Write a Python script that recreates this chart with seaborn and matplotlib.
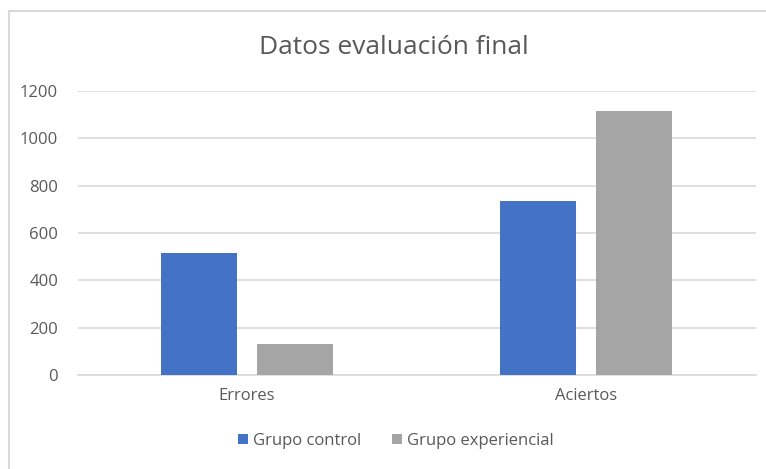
import matplotlib
matplotlib.use("Agg")
import matplotlib.pyplot as plt
import seaborn as sns
import pandas as pd
from matplotlib.lines import Line2D
from matplotlib.patches import Patch

categories = ["Errores", "Aciertos"]
series_names = ["Grupo control", "Grupo experiencial"]
grupo_control = [516, 734]
grupo_experiencial = [130, 1117]
y_ticks = [0, 200, 400, 600, 800, 1000, 1200]
title = "Datos evaluación final"

df = pd.DataFrame({
    "categoria": categories * 2,
    "grupo": [series_names[0]] * 2 + [series_names[1]] * 2,
    "valor": grupo_control + grupo_experiencial,
})

sns.set_style("white")
plt.rcParams["font.family"] = ["Open Sans", "DejaVu Sans"]
text_color = "#595959"
colors = ["#4472C4", "#A5A5A5"]

fig = plt.figure(figsize=(7.66, 4.69), dpi=100)
ax = fig.add_axes([77.5 / 766, 1 - 375 / 469, (755.5 - 77.5) / 766, (375 - 91) / 469])

sns.barplot(data=df, x="categoria", y="valor", hue="grupo", order=categories,
            hue_order=series_names, palette=colors, width=0.572, gap=0.216,
            saturation=1, ax=ax, legend=False, zorder=3, linewidth=0)

ax.set_ylim(0, 1200)
ax.set_xlim(-0.5, 1.5)
ax.set_yticks(y_ticks)
ax.set_yticklabels([str(t) for t in y_ticks])
ax.yaxis.grid(True, color="#D9D9D9", linewidth=1.2, zorder=0)
ax.xaxis.grid(False)
for s in ["top", "right", "left"]:
    ax.spines[s].set_visible(False)
ax.spines["bottom"].set_color("#D9D9D9")
ax.spines["bottom"].set_linewidth(1.2)
ax.tick_params(axis="y", length=0, pad=14, labelsize=12, labelcolor=text_color)
ax.tick_params(axis="x", length=0, pad=9, labelsize=12, labelcolor=text_color)
ax.set_xlabel("")
ax.set_ylabel("")

fig.text(394 / 766, 1 - 47 / 469, title, ha="center", va="center",
         fontsize=19, color=text_color)

handles = [Patch(facecolor=c, edgecolor="none") for c in colors]
fig.legend(handles, series_names, loc="center", bbox_to_anchor=(396 / 766, 1 - 441 / 469),
           ncol=2, frameon=False, fontsize=12, labelcolor=text_color,
           handlelength=0.6, handleheight=0.6, handletextpad=0.3, columnspacing=1.8)

# chart border (top and left visible)
fig.add_artist(Line2D([8.5 / 766, 8.5 / 766], [0, 1 - 11 / 469], transform=fig.transFigure,
                      color="#D9D9D9", linewidth=1.5))
fig.add_artist(Line2D([8.5 / 766, 1], [1 - 11 / 469, 1 - 11 / 469], transform=fig.transFigure,
                      color="#D9D9D9", linewidth=1.5))

fig.savefig("out.png", dpi=100, facecolor="white")
